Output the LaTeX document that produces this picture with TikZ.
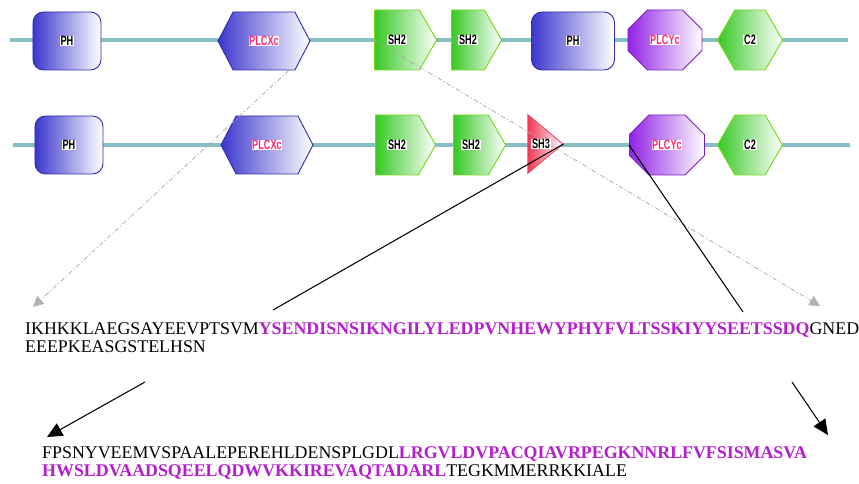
\documentclass[tikz,border=0pt]{standalone}
\usepackage{fontspec}
\setmainfont{Liberation Serif}
\newfontfamily\domfont{Liberation Sans}
\usetikzlibrary{shapes.geometric,shapes.symbols,shapes.misc,arrows.meta}

\definecolor{chaincol}{RGB}{135,190,195}
\definecolor{phblue}{RGB}{60,55,205}
\definecolor{plcyviolet}{RGB}{145,35,230}
\definecolor{shgreen}{RGB}{55,200,35}
\definecolor{shred}{RGB}{240,55,85}
\definecolor{motif}{RGB}{180,30,205}
\definecolor{tagpink}{RGB}{255,40,115}

\newcommand{\dtag}[1]{{\setlength{\fboxsep}{0.6pt}\colorbox{white}{\scalebox{0.68}[1]{#1}}}}
\newcommand{\ptag}[1]{{\setlength{\fboxsep}{0.6pt}\colorbox{white}{\scalebox{0.68}[1]{\textcolor{tagpink}{#1}}}}}

\tikzset{
	chain/.style={chaincol, line width=3pt},
	dom/.style={draw=#1!85!black, line width=0.8pt, left color=#1, right color=white,
		inner sep=0pt, font=\domfont\bfseries\fontsize{11.5}{12}\selectfont},
	phbox/.style={dom=phblue, rectangle, rounded corners=9pt, minimum height=1.74cm},
	plcxbox/.style={dom=phblue, signal, signal to=west and east, signal pointer angle=125,
		minimum width=2.76cm, minimum height=1.74cm},
	plcybox/.style={dom=plcyviolet, chamfered rectangle, chamfered rectangle xsep=0.38cm,
		chamfered rectangle ysep=0.42cm, minimum width=2.22cm, minimum height=1.8cm},
	shbox/.style={dom=shgreen, draw=shgreen!70!yellow, signal, signal to=east,
		signal pointer angle=120, minimum height=1.8cm},
	cbox/.style={dom=shgreen, draw=shgreen!70!yellow, signal, signal to=west and east,
		signal pointer angle=120, minimum width=1.95cm, minimum height=1.8cm},
	sh3box/.style={dom=shred, draw=shred!90!white, isosceles triangle, isosceles triangle apex angle=80,
		minimum height=1.05cm},
	guide/.style={gray!70, line width=0.6pt, dash pattern=on 4pt off 2pt on 1pt off 2pt,
		-{Triangle[length=9pt,width=9pt,color=gray!60]}},
	link/.style={black, line width=0.9pt},
	pointer/.style={black, line width=0.9pt, -{Triangle[length=13pt,width=12pt]}},
	seq/.style={anchor=base west, inner sep=0pt, font=\fontsize{15.25}{17}\selectfont}
}

\begin{document}
\begin{tikzpicture}[x=0.03cm,y=-0.03cm]
	\useasboundingbox (0,0) rectangle (859,484);

	% full length chain
	\coordinate (a0) at (10,40);
	\coordinate (a1) at (848,40);
	\draw[chain] (a0) -- (a1);
	\node[phbox, minimum width=2.04cm] (phA1) at (67,41) {\dtag{PH}};
	\node[plcxbox] (plcxA) at (264,41) {\ptag{PLCXc}};
	\node[shbox, minimum width=1.86cm] (shA1) at (397,40) {\dtag{SH2}};
	\node[shbox, minimum width=1.5cm] (shA2) at (468,40) {\dtag{SH2}};
	\node[phbox, minimum width=2.49cm] (phA2) at (573,41) {\dtag{PH}};
	\node[plcybox] (plcyA) at (665,40) {\ptag{PLCYc}};
	\node[cbox] (c2A) at (750,40) {\dtag{C2}};

	% chain with the SH3 insert
	\coordinate (b0) at (13,145);
	\coordinate (b1) at (850,145);
	\draw[chain] (b0) -- (b1);
	\node[phbox, minimum width=2.04cm] (phB1) at (69,145) {\dtag{PH}};
	\node[plcxbox] (plcxB) at (267,145) {\ptag{PLCXc}};
	\node[shbox, minimum width=1.8cm] (shB1) at (397,145) {\dtag{SH2}};
	\node[shbox, minimum width=1.56cm] (shB2) at (471,145) {\dtag{SH2}};
	\node[sh3box] (sh3) at (541,144) {\dtag{SH3}};
	\node[plcybox, minimum width=2.25cm] (plcyB) at (667,145) {\ptag{PLCYc}};
	\node[cbox] (c2B) at (750,145) {\dtag{C2}};

	% sequences
	\node[seq] (seqA1) at (25,335) {IKHKKLAEGSAYEEVPTSVM\textcolor{motif}{\bfseries YSENDISNSIKNGILYLEDPVNHEWYPHYFVLTSSKIYYSEETSSDQ}GNED};
	\node[seq] (seqA2) at (25,353) {EEEPKEASGSTELHSN};
	\node[seq] (seqB1) at (42,458) {FPSNYVEEMVSPAALEPEREHLDENSPLGDL\textcolor{motif}{\bfseries LRGVLDVPACQIAVRPEGKNNRLFVFSISMASVA}};
	\node[seq] (seqB2) at (42,476) {\textcolor{motif}{\bfseries HWSLDVAADSQEELQDWVKKIREVAQTADARL}TEGKMMERRKKIALE};

	% where the pieces go
	\coordinate (gL) at (33,307);
	\coordinate (gR) at (820,306);
	\coordinate (kL) at (273,310);
	\coordinate (kR) at (743,312);
	\coordinate (pL0) at (145,382);
	\coordinate (pL1) at (47,437);
	\coordinate (pR0) at (792,382);
	\coordinate (pR1) at (828,435);
	\draw[guide] (plcxA.-50) -- (gL);
	\draw[guide] (shA1.west) -- (gR);
	\draw[link] (sh3.east) -- (kL);
	\draw[link] (plcyB.west) -- (kR);
	\draw[pointer] (pL0) -- (pL1);
	\draw[pointer] (pR0) -- (pR1);
\end{tikzpicture}
\end{document}
